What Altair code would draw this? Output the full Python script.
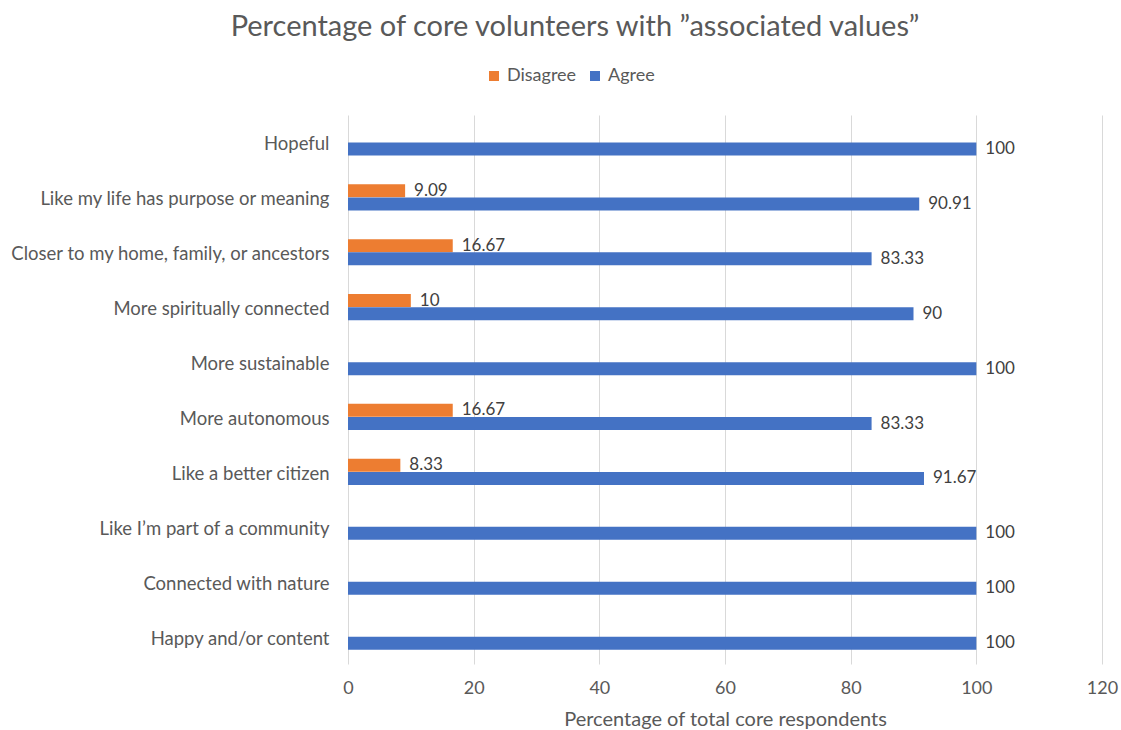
import altair as alt
import pandas as pd

categories = [
    "Hopeful",
    "Like my life has purpose or meaning",
    "Closer to my home, family, or ancestors",
    "More spiritually connected",
    "More sustainable",
    "More autonomous",
    "Like a better citizen",
    "Like I’m part of a community",
    "Connected with nature",
    "Happy and/or content",
]
disagree = [0, 9.09, 16.67, 10, 0, 16.67, 8.33, 0, 0, 0]
agree = [100, 90.91, 83.33, 90, 100, 83.33, 91.67, 100, 100, 100]
series = ["Disagree", "Agree"]
colors = ["#ED7D31", "#4472C4"]
x_ticks = [0, 20, 40, 60, 80, 100, 120]

rows = []
for c, d, a in zip(categories, disagree, agree):
    rows.append({"category": c, "series": "Disagree", "value": d})
    rows.append({"category": c, "series": "Agree", "value": a})
df = pd.DataFrame(rows)

FONT = "Lato"
TXT = "#595959"

y_enc = alt.Y(
    "category:N",
    sort=categories,
    title=None,
    scale=alt.Scale(paddingInner=0.52, paddingOuter=0.26),
    axis=alt.Axis(
        labelFontSize=18.5, labelColor=TXT, labelFont=FONT, ticks=False,
        domain=False, labelPadding=19, grid=False, labelLimit=400, labelOffset=2,
    ),
)
yoff = alt.YOffset("series:N", sort=series)
x_enc = alt.X(
    "value:Q",
    scale=alt.Scale(domain=[0, 120], nice=False),
    title="Percentage of total core respondents",
    axis=alt.Axis(
        values=x_ticks, labelFontSize=18, labelColor=TXT, labelFont=FONT,
        labelFlush=False,
        titleFontSize=20, titleColor=TXT, titleFont=FONT, titleFontWeight="normal",
        ticks=False, tickSize=0, domain=False, grid=True, gridColor="#D9D9D9",
        gridWidth=1, labelPadding=15, titlePadding=12,
    ),
)

base = alt.Chart(df)
bars = base.mark_bar(size=13).encode(
    y=y_enc,
    yOffset=yoff,
    x=x_enc,
    color=alt.Color(
        "series:N",
        scale=alt.Scale(domain=series, range=colors),
        legend=alt.Legend(
            title=None, orient="none", direction="horizontal",
            legendX=137, legendY=-48, symbolType="square", symbolSize=100,
            labelFontSize=18, labelColor=TXT, labelFont=FONT,
            symbolStrokeWidth=0, columnPadding=9,
        ),
    ),
)
labels = base.transform_filter("datum.value > 0").mark_text(
    align="left", baseline="middle", dx=9, fontSize=17, font=FONT, color="#404040"
).encode(
    y=alt.Y("category:N", sort=categories),
    yOffset=yoff,
    x=alt.X("value:Q"),
    text=alt.Text("value:Q", format=".2~f"),
)

chart = (
    alt.layer(bars, labels)
    .properties(
        width=754,
        height=549,
        background="white",
        title=alt.TitleParams(
            "Percentage of core volunteers with ”associated values”",
            fontSize=29, font=FONT, color=TXT, fontWeight="normal",
            anchor="middle", dx=-150, offset=25,
        ),
        autosize=alt.AutoSizeParams(type="none"),
        padding={"left": 348, "top": 115, "right": 19, "bottom": 66},
    )
    .configure_view(stroke="transparent", strokeWidth=0)
)

chart.save("out.html", embed_options={"renderer": "svg", "actions": False})
